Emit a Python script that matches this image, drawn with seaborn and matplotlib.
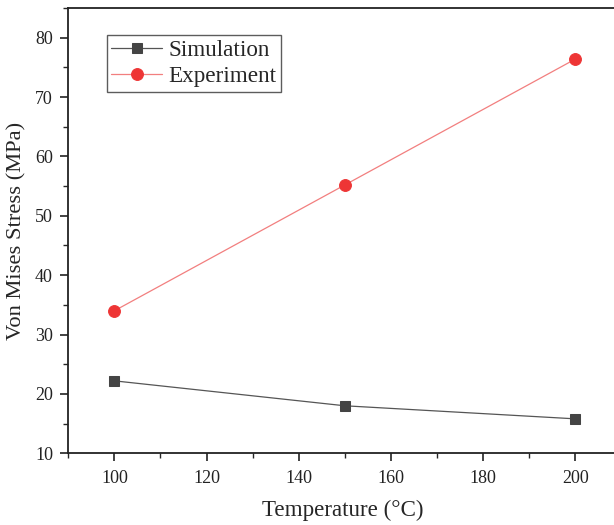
import numpy as np
import pandas as pd
import matplotlib
matplotlib.use("Agg")
import matplotlib.pyplot as plt
import seaborn as sns
from matplotlib.ticker import MultipleLocator

# datos
temperature = [100, 150, 200]
simulation = [22.2, 18.0, 15.8]
experiment = [34.0, 55.2, 76.4]

df = pd.DataFrame({
    "Temperature": temperature * 2,
    "Stress": simulation + experiment,
    "Serie": ["Simulation"] * 3 + ["Experiment"] * 3,
})

sns.set_style("ticks")
plt.rcParams["font.family"] = ["Liberation Serif", "DejaVu Serif"]

fig = plt.figure(figsize=(6.14, 5.25), dpi=100)
# el eje derecho queda fuera de la imagen, como en la original
ax = fig.add_axes([0.1112, 0.1366, 0.8935, 0.8482])

sim = df[df["Serie"] == "Simulation"]
exp = df[df["Serie"] == "Experiment"]

sns.lineplot(data=sim, x="Temperature", y="Stress", ax=ax, color="#555555",
             lw=0.9, marker="s", markersize=7, markerfacecolor="#444444",
             markeredgecolor="#444444", label="Simulation")
sns.lineplot(data=exp, x="Temperature", y="Stress", ax=ax, color="#f27f7f",
             lw=0.9, marker="o", markersize=8.5, markerfacecolor="#ee3535",
             markeredgecolor="#ee3535", label="Experiment")

ax.set_xlim(90, 209.0)
ax.set_ylim(10, 85)
ax.xaxis.set_major_locator(MultipleLocator(20))
ax.xaxis.set_minor_locator(MultipleLocator(10))
ax.yaxis.set_major_locator(MultipleLocator(10))
ax.yaxis.set_minor_locator(MultipleLocator(5))
ax.tick_params(which="major", direction="out", length=6, width=1.2,
               labelsize=13, colors="#222222")
ax.tick_params(which="minor", direction="out", length=3.5, width=1.0)
ax.tick_params(axis="x", pad=6)
ax.tick_params(axis="y", pad=5)
for s in ax.spines.values():
    s.set_linewidth(1.3)
    s.set_color("#222222")

ax.set_xlabel("Temperature (°C)", fontsize=16.6, labelpad=9)
ax.set_ylabel("Von Mises Stress (MPa)", fontsize=16.2, labelpad=6)

leg = ax.legend(loc="upper left", bbox_to_anchor=(0.07, 0.939), fontsize=16.7,
                frameon=True, fancybox=False, edgecolor="#333333",
                handlelength=2.2, borderpad=0.2, labelspacing=0.21,
                handletextpad=0.26, borderaxespad=0)
leg.get_frame().set_linewidth(1.0)

fig.savefig("out.png", dpi=100)
